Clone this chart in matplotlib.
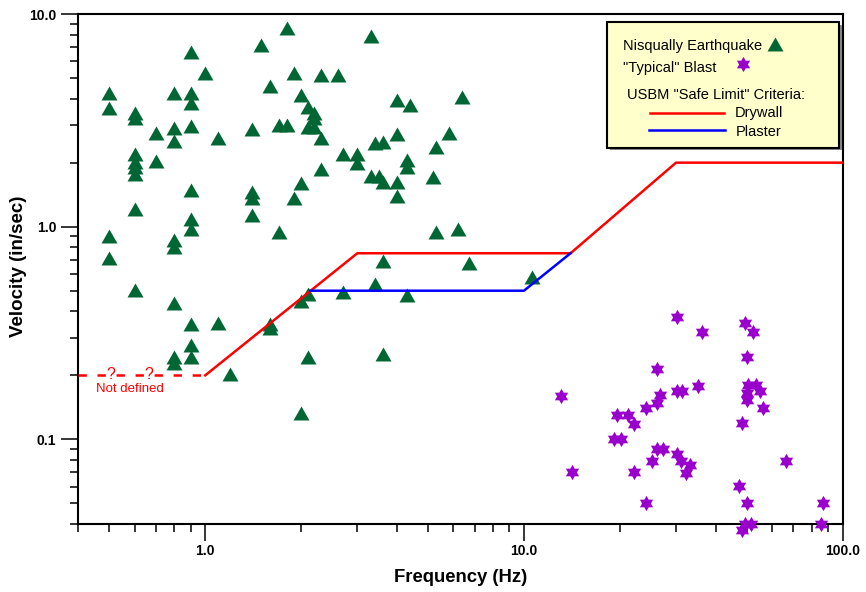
import matplotlib
matplotlib.use('Agg')
import matplotlib.pyplot as plt
import numpy as np
from matplotlib.ticker import NullFormatter
from matplotlib.patches import Rectangle
from matplotlib.lines import Line2D

plt.rcParams['font.family'] = ['Liberation Sans', 'DejaVu Sans']
plt.rcParams['lines.scale_dashes'] = False

# ---------------- data ----------------
quake_freq = [0.5, 0.5, 0.5, 0.5,
              0.6, 0.6, 0.6, 0.6, 0.6, 0.6, 0.6, 0.6,
              0.7, 0.7,
              0.8, 0.8, 0.8, 0.8, 0.8, 0.8, 0.8, 0.8,
              0.9, 0.9, 0.9, 0.9, 0.9, 0.9, 0.9, 0.9, 0.9, 0.9,
              1.0,
              1.1, 1.1,
              1.2,
              1.4, 1.4, 1.4, 1.4,
              1.5,
              1.6, 1.6, 1.6,
              1.7, 1.7,
              1.8, 1.8,
              1.9, 1.9,
              2.0, 2.0, 2.0, 2.0,
              2.1, 2.1, 2.1, 2.1,
              2.2, 2.2, 2.2,
              2.3, 2.3, 2.3,
              2.6,
              2.7, 2.7,
              3.0, 3.0,
              3.3, 3.3,
              3.4, 3.4,
              3.5,
              3.6, 3.6, 3.6, 3.6,
              4.0, 4.0, 4.0, 4.0,
              4.3, 4.3, 4.3,
              4.4,
              5.2,
              5.3, 5.3,
              5.8,
              6.2,
              6.4,
              6.7,
              10.6]
quake_vel = [4.24, 3.60, 0.90, 0.71,
             3.44, 3.25, 2.20, 2.02, 1.90, 1.77, 1.21, 0.504,
             2.75, 2.04,
             4.27, 2.90, 2.54, 0.866, 0.805, 0.44, 0.244, 0.228,
             6.61, 4.27, 3.80, 2.97, 1.48, 1.09, 0.975, 0.349, 0.278, 0.244,
             5.26,
             2.60, 0.351,
             0.203,
             2.87, 1.46, 1.36, 1.13,
             7.15,
             4.61, 0.35, 0.335,
             3.01, 0.947,
             8.57, 3.02,
             5.30, 1.36,
             4.16, 1.60, 0.449, 0.1335,
             3.67, 2.95, 0.483, 0.244,
             3.41, 3.23, 2.95,
             5.15, 2.60, 1.87,
             5.15,
             2.20, 0.495,
             2.20, 1.99,
             7.88, 1.74,
             2.47, 0.538,
             1.74,
             2.49, 1.62, 0.69, 0.252,
             3.94, 2.73, 1.62, 1.40,
             2.06, 1.90, 0.477,
             3.73,
             1.71,
             2.38, 0.947,
             2.77,
             0.972,
             4.08,
             0.677,
             0.578]

blast_freq = [30.3, 36.3, 49.2, 52.3, 50.0, 26.2, 13.1, 35.1, 30.3, 31.4,
              26.7, 26.2, 24.1, 19.6, 21.2, 22.1, 19.1, 20.2, 26.2, 27.3,
              25.2, 30.1, 31.2, 33.2, 32.2, 22.1, 14.1, 50.6, 53.5, 50.0,
              50.0, 55.2, 56.3, 48.3, 66.2, 47.2, 24.1, 50.0, 86.5, 49.2,
              51.5, 48.3, 85.5]
blast_vel = [0.377, 0.321, 0.351, 0.321, 0.244, 0.214, 0.160, 0.179, 0.169, 0.169,
             0.162, 0.149, 0.140, 0.130, 0.130, 0.118, 0.100, 0.100, 0.0897, 0.0897,
             0.0794, 0.0857, 0.0794, 0.0759, 0.0697, 0.0699, 0.070, 0.180, 0.180, 0.165,
             0.153, 0.169, 0.140, 0.119, 0.0794, 0.0602, 0.050, 0.050, 0.050, 0.040,
             0.040, 0.0374, 0.040]

drywall_freq = [1.0, 3.0, 14.0, 30.0, 100.0]
drywall_vel = [0.2, 0.75, 0.75, 2.0, 2.0]
plaster_freq = [2.14, 10.0, 14.0]
plaster_vel = [0.5, 0.5, 0.75]
undef_freq = [0.4, 1.0]
undef_vel = [0.2, 0.2]
q_marks_freq = [0.506, 0.666]

x_major = [1, 10, 100]
x_major_labels = ['1.0', '10.0', '100.0']
x_minor = [0.4, 0.5, 0.6, 0.7, 0.8, 0.9, 2, 3, 4, 5, 6, 7, 8, 9,
           20, 30, 40, 50, 60, 70, 80, 90]
y_major = [0.1, 1, 10]
y_major_labels = ['0.1', '1.0', '10.0']
y_minor = [0.04, 0.05, 0.06, 0.07, 0.08, 0.09, 0.2, 0.3, 0.4, 0.5, 0.6, 0.7,
           0.8, 0.9, 2, 3, 4, 5, 6, 7, 8, 9]

GREEN = '#006633'
PURPLE = '#9900CC'

# ---------------- markers ----------------
tri_marker = [(-1, -0.875), (1, -0.875), (0, 0.875), (-1, -0.875)]
ang_o = np.deg2rad(90 + 60 * np.arange(6))
ang_i = ang_o + np.deg2rad(30)
r_i = 1 / np.sqrt(3)
hex_marker = []
for ao, ai in zip(ang_o, ang_i):
    hex_marker.append((np.cos(ao), np.sin(ao)))
    hex_marker.append((r_i * np.cos(ai), r_i * np.sin(ai)))
hex_marker.append(hex_marker[0])

# ---------------- figure ----------------
W, H = 866, 592
fig = plt.figure(figsize=(W / 100, H / 100), dpi=100)
ax = fig.add_axes([78.4 / W, 1 - 524 / H, (842.7 - 78.4) / W, (524 - 14) / H])
ax.set_xscale('log')
ax.set_yscale('log')

ax.plot(quake_freq, quake_vel, ls='none', marker=tri_marker, ms=11.5,
        mfc=GREEN, mec='none', zorder=3)
ax.plot(blast_freq, blast_vel, ls='none', marker=hex_marker, ms=11,
        mfc=PURPLE, mec='none', zorder=3, clip_on=False)

ax.plot(drywall_freq, drywall_vel, color='#FF0000', lw=1.8, zorder=4)
ax.plot(plaster_freq, plaster_vel, color='#0000FF', lw=1.8, zorder=4)
ax.plot(undef_freq, undef_vel, color='#FF0000', lw=1.8, dashes=(6.0, 7.7), zorder=4)
for qf in q_marks_freq:
    ax.text(qf, 0.1915, '?', color='#FF0000', fontsize=11.5, ha='center', va='baseline', zorder=4)
ax.text(0.579, 0.167, 'Not defined', color='#FF0000', fontsize=9.5, ha='center', va='baseline', zorder=4)

ax.set_xlim(0.4, 100)
ax.set_ylim(0.04, 10)
ax.set_xticks(x_major, x_major_labels, fontweight='bold', fontsize=10)
ax.set_xticks(x_minor, minor=True)
ax.set_yticks(y_major, y_major_labels, fontweight='bold', fontsize=10)
ax.set_yticks(y_minor, minor=True)
ax.xaxis.set_minor_formatter(NullFormatter())
ax.yaxis.set_minor_formatter(NullFormatter())
ax.tick_params(which='major', direction='out', length=12.5, width=1.1, colors='black')
ax.tick_params(axis='x', which='major', pad=2)
ax.tick_params(axis='y', which='major', pad=3.5)
ax.tick_params(which='minor', direction='out', length=6, width=1.1)
for s in ax.spines.values():
    s.set_linewidth(1.5)

fig.text(461 / W, 1 - 578 / H, 'Frequency (Hz)', fontsize=13.3, fontweight='bold',
         ha='center', va='center')
fig.text(19 / W, 1 - 266 / H, 'Velocity (in/sec)', fontsize=13.5, fontweight='bold',
         ha='center', va='center', rotation=90)

# ---------------- legend box ----------------
def fx(px):
    return px / W

def fy(py):
    return 1 - py / H

fig.add_artist(Rectangle((fx(609.5), fy(150)), (839.3 - 607.3) / W, (147.7 - 22.3) / H,
                         transform=fig.transFigure, facecolor='#888888', edgecolor='none', zorder=5))
fig.add_artist(Rectangle((fx(607.3), fy(147.7)), (839.3 - 607.3) / W, (147.7 - 22.3) / H,
                         transform=fig.transFigure, facecolor='#FFFFCC', edgecolor='black',
                         lw=1.5, zorder=6))
fig.text(fx(622.7), fy(50), 'Nisqually Earthquake', fontsize=10.5, va='baseline', zorder=7)
fig.add_artist(Line2D([fx(775)], [fy(44.3)], transform=fig.transFigure, ls='none',
                      marker=tri_marker, ms=11.5, mfc=GREEN, mec='none', zorder=7))
fig.text(fx(622.7), fy(71.7), '"Typical" Blast', fontsize=10.5, va='baseline', zorder=7)
fig.add_artist(Line2D([fx(742.7)], [fy(64.3)], transform=fig.transFigure, ls='none',
                      marker=hex_marker, ms=11, mfc=PURPLE, mec='none', zorder=7))
fig.text(fx(626.7), fy(99), 'USBM "Safe Limit" Criteria:', fontsize=10.5, va='baseline', zorder=7)
fig.add_artist(Line2D([fx(650), fx(724)], [fy(113.3), fy(113.3)], transform=fig.transFigure,
                      color='#FF0000', lw=1.8, zorder=7))
fig.text(fx(735), fy(116.7), 'Drywall', fontsize=10.5, va='baseline', zorder=7)
fig.add_artist(Line2D([fx(649), fx(725.3)], [fy(130.3), fy(130.3)], transform=fig.transFigure,
                      color='#0000FF', lw=1.8, zorder=7))
fig.text(fx(736), fy(136), 'Plaster', fontsize=10.5, va='baseline', zorder=7)

fig.savefig('out.png', dpi=100)
